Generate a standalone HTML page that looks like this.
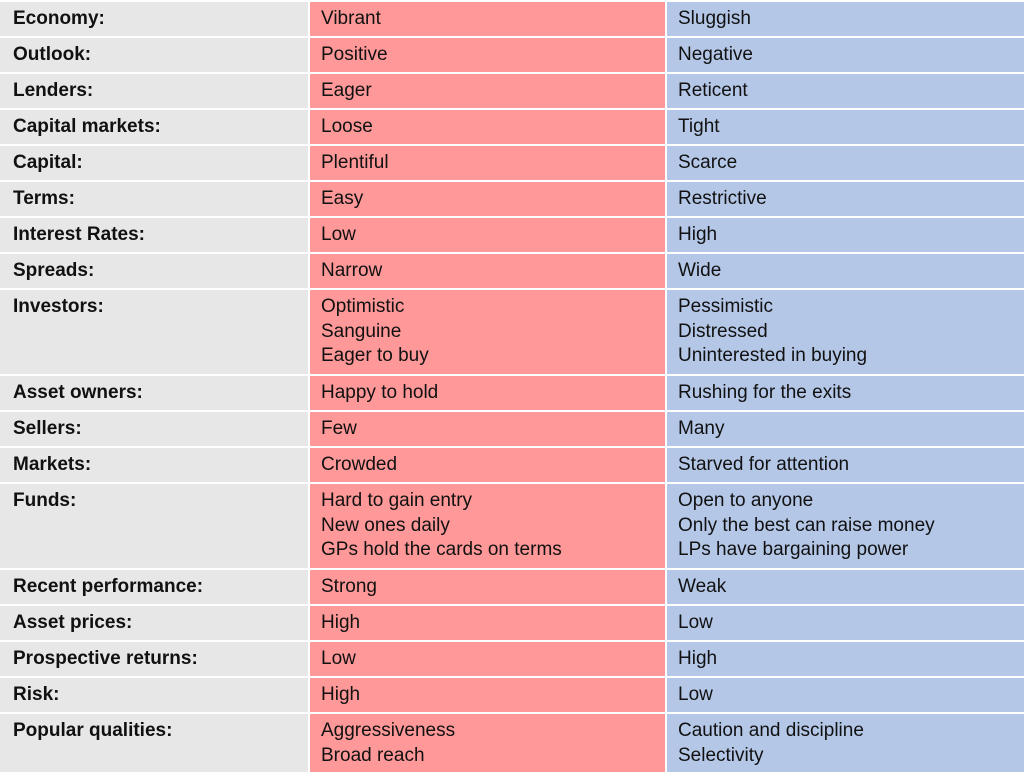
<!DOCTYPE html>
<html><head><meta charset="utf-8"><style>
html,body{margin:0;padding:0;background:#fff;width:1024px;height:781px;overflow:hidden}
.g{display:grid;grid-template-columns:308px 355px 357px;column-gap:2px;row-gap:2px;padding-top:2px;font-family:"Liberation Sans",Arial,sans-serif;font-size:19px;color:#111;line-height:24.5px}
.g div{padding:5px 0 0 11px;box-sizing:border-box;height:34px}
.g div.t{height:84px}.g div.d{height:58px}
.a{background:#e7e7e7;font-weight:bold;padding-left:13px!important}
.b{background:#ff9898}
.c{background:#b4c7e7}
</style></head><body>
<div class="g">
<div class="a">Economy:</div><div class="b">Vibrant</div><div class="c">Sluggish</div>
<div class="a">Outlook:</div><div class="b">Positive</div><div class="c">Negative</div>
<div class="a">Lenders:</div><div class="b">Eager</div><div class="c">Reticent</div>
<div class="a">Capital markets:</div><div class="b">Loose</div><div class="c">Tight</div>
<div class="a">Capital:</div><div class="b">Plentiful</div><div class="c">Scarce</div>
<div class="a">Terms:</div><div class="b">Easy</div><div class="c">Restrictive</div>
<div class="a">Interest Rates:</div><div class="b">Low</div><div class="c">High</div>
<div class="a">Spreads:</div><div class="b">Narrow</div><div class="c">Wide</div>
<div class="a t">Investors:</div><div class="b t">Optimistic<br>Sanguine<br>Eager to buy</div><div class="c t">Pessimistic<br>Distressed<br>Uninterested in buying</div>
<div class="a">Asset owners:</div><div class="b">Happy to hold</div><div class="c">Rushing for the exits</div>
<div class="a">Sellers:</div><div class="b">Few</div><div class="c">Many</div>
<div class="a">Markets:</div><div class="b">Crowded</div><div class="c">Starved for attention</div>
<div class="a t">Funds:</div><div class="b t">Hard to gain entry<br>New ones daily<br>GPs hold the cards on terms</div><div class="c t">Open to anyone<br>Only the best can raise money<br>LPs have bargaining power</div>
<div class="a">Recent performance:</div><div class="b">Strong</div><div class="c">Weak</div>
<div class="a">Asset prices:</div><div class="b">High</div><div class="c">Low</div>
<div class="a">Prospective returns:</div><div class="b">Low</div><div class="c">High</div>
<div class="a">Risk:</div><div class="b">High</div><div class="c">Low</div>
<div class="a d">Popular qualities:</div><div class="b d">Aggressiveness<br>Broad reach</div><div class="c d">Caution and discipline<br>Selectivity</div>
</div>
</body></html>
